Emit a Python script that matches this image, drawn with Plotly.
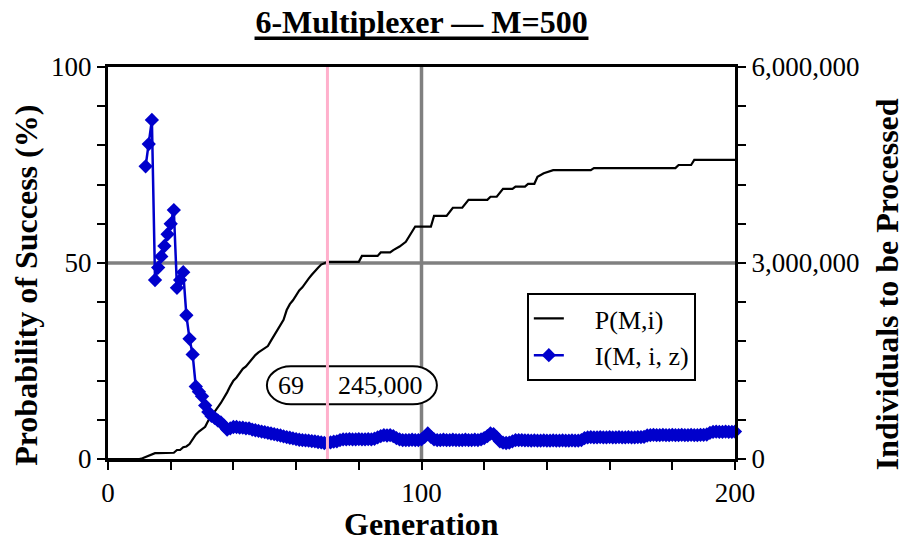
import plotly.graph_objects as go

# ---------------- data ----------------
# P(M,i): probability of success (%) by generation
p_gen = list(range(0, 71)) + [80, 81, 86, 87, 90, 91, 93, 95, 98, 103, 104, 108, 110, 113,
                              115, 121, 122, 124, 126, 129, 130, 133, 134, 136, 137, 139,
                              142, 154, 155, 181, 182, 186, 187, 200]
p_val = [0, 0, 0, 0, 0, 0, 0, 0, 0, 0, 0,
         0.2, 0.5, 1.0, 1.3, 1.5, 1.5, 1.5, 1.5, 1.5, 1.5, 1.6, 2.3, 2.3, 3.0, 3.2, 3.8,
         5.0, 6.2, 7.0, 7.6, 8.2, 9.8, 11.0, 12.3, 13.2, 14.3, 15.5, 17.0, 18.6, 20.0,
         20.8, 21.8, 23.0, 23.6, 24.6, 25.6, 26.5, 27.2, 27.8, 28.3, 28.8, 30.2, 31.5,
         32.8, 34.0, 35.5, 38.0, 39.5, 40.5, 41.8, 43.0, 43.8, 45.0, 46.0, 47.0, 48.0,
         48.8, 49.6, 50.0, 50.3,
         50.3, 51.8, 51.8, 52.7, 52.7, 53.3, 54.2, 55.4, 59.3, 59.3, 62.0, 62.0, 64.1,
         64.1, 66.1, 66.1, 66.9, 66.9, 68.9, 68.9, 69.5, 69.5, 70.2, 70.2, 72.0, 72.9,
         73.7, 73.7, 74.2, 74.2, 75.0, 75.0, 76.3, 76.3]

# I(M, i, z): individuals to be processed, generations 12..200 (thousands)
i_first_gen = 12
i_val_k = [4480, 4820, 5190, 2740, 2930, 3100, 3260, 3440, 3600, 3810,
           2620, 2740, 2860, 2200, 1840, 1600, 1110, 1030, 960, 820,
           720, 660, 630, 590, 560, 510, 450, 470, 490, 490,
           480, 480, 470, 470, 450, 440, 430, 420, 410, 400,
           390, 380, 370, 360, 345, 335, 325, 315, 305, 295,
           290, 285, 280, 275, 270, 260, 255, 245, 245, 255,
           265, 270, 290, 300, 300, 305, 300, 300, 305, 300,
           300, 305, 300, 310, 330, 350, 365, 360, 365, 350,
           320, 300, 290, 290, 290, 295, 290, 290, 300, 340,
           390, 340, 300, 290, 290, 295, 290, 290, 295, 290,
           290, 290, 295, 290, 290, 295, 290, 300, 320, 350,
           390, 380, 330, 270, 250, 245, 250, 270, 290, 290,
           290, 285, 285, 280, 285, 280, 280, 285, 280, 280,
           285, 280, 280, 285, 280, 280, 285, 280, 280, 290,
           320, 330, 335, 330, 330, 335, 330, 330, 335, 330,
           330, 335, 330, 330, 335, 330, 330, 335, 335, 340,
           360, 365, 370, 365, 365, 370, 365, 365, 370, 365,
           365, 370, 365, 365, 370, 365, 365, 370, 370, 375,
           400, 415, 420, 415, 415, 420, 415, 415, 420]
i_gen = [i_first_gen + k for k in range(len(i_val_k))]
i_val = [v * 1000 for v in i_val_k]

x_ticks = list(range(0, 201, 20))
x_labels = {0: "0", 100: "100", 200: "200"}
y_ticks = list(range(0, 101, 10))
y_labels = {0: "0", 50: "50", 100: "100"}
y2_ticks = list(range(0, 6000001, 600000))
y2_labels = {0: "0", 3000000: "3,000,000", 6000000: "6,000,000"}

best_gen_line = 70
best_gen_text = "69"
best_i_text = "245,000"
grid_x = 100
grid_y = 50

FONT = "Liberation Serif, Times New Roman, serif"
LEAD = "\u2003"  # em space: gap between legend sample and label

fig = go.Figure()
fig.add_trace(go.Scatter(x=p_gen, y=p_val, mode="lines", name=LEAD + "P(M,i)",
                         line=dict(color="black", width=2.2), yaxis="y"))
fig.add_trace(go.Scatter(x=i_gen, y=i_val, mode="lines+markers",
                         name=LEAD + "I(M, i, z)",
                         line=dict(color="#0000CC", width=2.5),
                         marker=dict(symbol="diamond", size=11, color="#0000CC"),
                         yaxis="y2", cliponaxis=False))

axis_common = dict(showline=True, linecolor="black", linewidth=3, ticks="outside",
                   ticklen=8, tickwidth=2, tickcolor="black", showgrid=False,
                   zeroline=False, tickfont=dict(family=FONT, size=27, color="black"))

fig.update_layout(
    width=899, height=534,
    margin=dict(l=100, r=172, t=59, b=83),
    paper_bgcolor="white", plot_bgcolor="white",
    font=dict(family=FONT, color="black"),
    title=dict(text="<b>6-Multiplexer — M=500</b>", x=0.5, xref="paper",
               y=0.974, yanchor="middle", font=dict(family=FONT, size=32, color="black")),
    xaxis=dict(range=[0, 200], tickvals=x_ticks,
               ticktext=[x_labels.get(t, "") for t in x_ticks], mirror=True, **axis_common),
    yaxis=dict(range=[0, 100], tickvals=y_ticks,
               ticktext=[y_labels.get(t, "") for t in y_ticks], **axis_common),
    yaxis2=dict(range=[0, 6000000], tickvals=y2_ticks, overlaying="y", side="right",
                ticktext=[y2_labels.get(t, "") for t in y2_ticks], **axis_common),
    showlegend=True,
    legend=dict(x=0.668, y=0.4235, xanchor="left", yanchor="top",
                bgcolor="white", bordercolor="black", borderwidth=2,
                font=dict(family=FONT, size=26, color="black")),
)

shapes = [
    dict(type="line", xref="paper", x0=0, x1=1, yref="y", y0=grid_y, y1=grid_y,
         line=dict(color="#808080", width=3.5), layer="below"),
    dict(type="line", xref="x", x0=grid_x, x1=grid_x, yref="paper", y0=0, y1=1,
         line=dict(color="#808080", width=3.5), layer="below"),
    # thick underline of the chart title
    dict(type="line", xref="paper", x0=0.2337, x1=0.7663, yref="paper",
         y0=1.0735, y1=1.0735, line=dict(color="black", width=3.5)),
]
# rounded (stadium) label box, pixel sized, anchored in data space
hw, hh, rx = 85, 19, 24
k = 0.5523
path = (f"M {-hw+rx},{hh} L {hw-rx},{hh} "
        f"C {hw-rx+rx*k},{hh} {hw},{hh*k} {hw},0 "
        f"C {hw},{-hh*k} {hw-rx+rx*k},{-hh} {hw-rx},{-hh} "
        f"L {-hw+rx},{-hh} "
        f"C {-hw+rx-rx*k},{-hh} {-hw},{-hh*k} {-hw},0 "
        f"C {-hw},{hh*k} {-hw+rx-rx*k},{hh} {-hw+rx},{hh} Z")
shapes.append(dict(type="path", xref="x", yref="y", xsizemode="pixel", ysizemode="pixel",
                   xanchor=77.8, yanchor=18.8, path=path, fillcolor="white",
                   line=dict(color="black", width=2), layer="above"))
shapes.append(dict(type="line", xref="x", x0=best_gen_line, x1=best_gen_line,
                   yref="paper", y0=0, y1=1,
                   line=dict(color="#FFB0CC", width=3), layer="above"))
fig.update_layout(shapes=shapes)

ann_font = dict(family=FONT, size=26, color="black")
fig.add_annotation(x=58.4, y=18.8, xref="x", yref="y", text=best_gen_text,
                   showarrow=False, font=ann_font)
fig.add_annotation(x=86.8, y=18.8, xref="x", yref="y", text=best_i_text,
                   showarrow=False, font=ann_font)

title_font = dict(family=FONT, size=32, color="black")
fig.add_annotation(x=0.5, y=-0.166, xref="paper", yref="paper", text="<b>Generation</b>",
                   showarrow=False, font=title_font, yanchor="middle")
fig.add_annotation(x=-0.131, y=0.444, xref="paper", yref="paper",
                   text="<b>Probability of Success (%)</b>", textangle=-90,
                   showarrow=False, font=title_font, xanchor="center", yanchor="middle")
fig.add_annotation(x=1.242, y=0.445, xref="paper", yref="paper",
                   text="<b>Individuals to be Processed</b>", textangle=-90,
                   showarrow=False, font=title_font, xanchor="center", yanchor="middle")

fig.write_html("out.html")
